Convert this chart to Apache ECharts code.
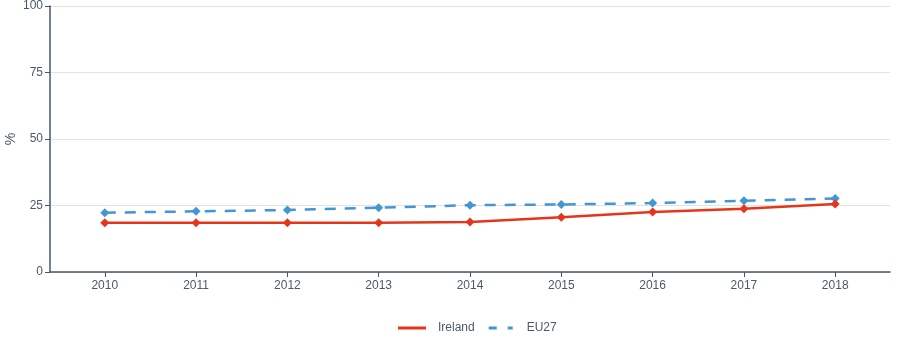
<!DOCTYPE html>
<html><head><meta charset="utf-8">
<script src="https://cdn.jsdelivr.net/npm/echarts@6/dist/echarts.min.js"></script>
<style>html,body{margin:0;padding:0;background:#fff}#c{width:898px;height:359px}</style>
</head><body><div id="c"></div>
<script>
const years = [2010, 2011, 2012, 2013, 2014, 2015, 2016, 2017, 2018];
const ireland = [18.5, 18.5, 18.5, 18.5, 18.8, 20.6, 22.6, 23.8, 25.6];
const eu27 = [22.3, 22.8, 23.3, 24.2, 25.1, 25.4, 25.9, 26.8, 27.6];
const yTicks = [0, 25, 50, 75, 100];

const axisColor = '#44576b';
const textColor = '#4a5a6b';
const chart = echarts.init(document.getElementById('c'));
chart.setOption({
  animation: false,
  textStyle: { fontFamily: 'Liberation Sans, Arial, sans-serif' },
  grid: { left: 50, right: 8, top: 6, bottom: 87, containLabel: false, outerBoundsMode: 'none' },
  legend: {
    bottom: 20, left: 393, itemWidth: 28, itemHeight: 3, itemGap: 14,
    textStyle: { color: textColor, fontSize: 12, padding: [0, 0, 0, 7] },
    data: [
      { name: 'Ireland', icon: 'rect', itemStyle: { color: '#e5361b' } },
      { name: 'EU27', icon: 'path://M0,0H8V3H0Z M19,0H24V3H19Z', itemWidth: 24, itemStyle: { color: '#4196d3' } }
    ]
  },
  xAxis: {
    type: 'value', min: 2009.4, max: 2018.6,
    axisLine: { lineStyle: { color: axisColor, width: 1.5 } },
    axisTick: { show: true, customValues: years, length: 5, lineStyle: { color: axisColor } },
    axisLabel: { customValues: years, color: textColor, fontSize: 12, margin: 8, formatter: v => String(v) },
    splitLine: { show: false }
  },
  yAxis: {
    type: 'value', min: 0, max: 100, interval: 25,
    name: '%', nameLocation: 'middle', nameGap: 32, nameRotate: 90, nameMoveOverlap: false,
    nameTextStyle: { color: textColor, fontSize: 14 },
    axisLine: { show: true, lineStyle: { color: axisColor, width: 1.5 } },
    axisTick: { show: true, length: 5, lineStyle: { color: axisColor } },
    axisLabel: { customValues: yTicks, color: textColor, fontSize: 12, margin: 7 },
    splitLine: { lineStyle: { color: '#e2e2e2', width: 1 } }
  },
  series: [
    {
      name: 'Ireland', type: 'line',
      data: years.map((y, i) => [y, ireland[i]]),
      symbol: 'diamond', symbolSize: 9,
      itemStyle: { color: '#e5361b' },
      lineStyle: { color: '#e5361b', width: 2.5 },
      z: 3
    },
    {
      name: 'EU27', type: 'line',
      data: years.map((y, i) => [y, eu27[i]]),
      symbol: 'diamond', symbolSize: 9,
      itemStyle: { color: '#4196d3' },
      lineStyle: { color: '#4196d3', width: 2.5, type: [11, 9] },
      z: 2
    }
  ]
});
</script>
</body></html>
